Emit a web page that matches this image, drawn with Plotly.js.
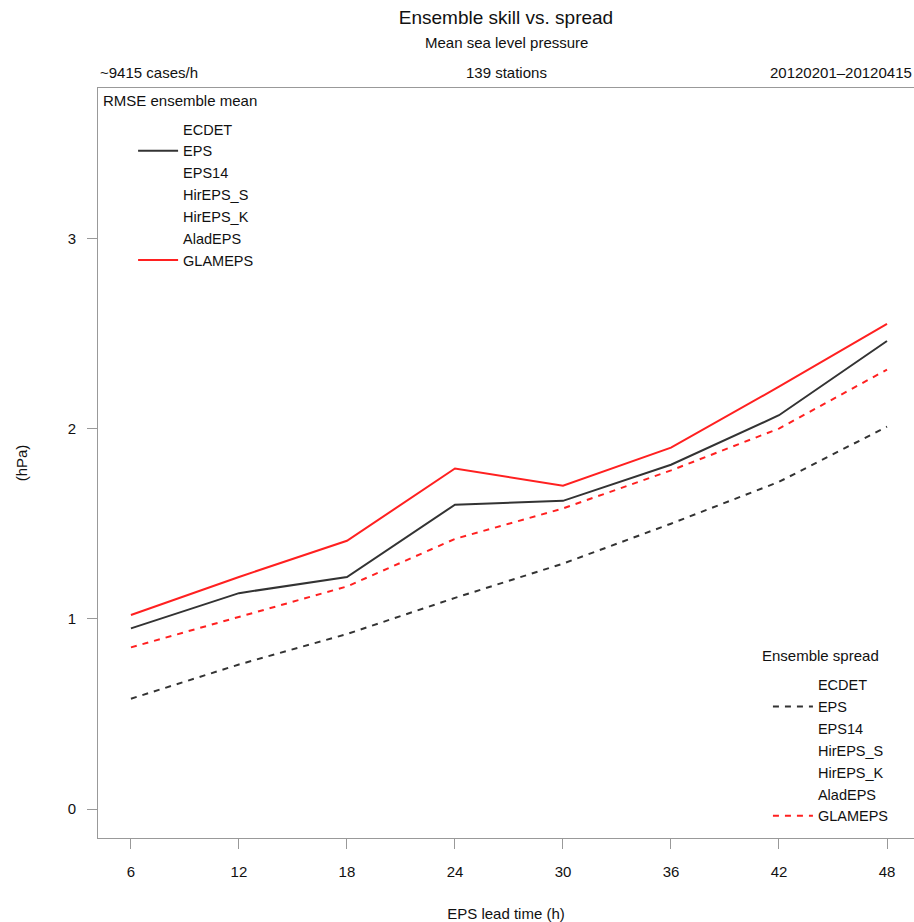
<!DOCTYPE html>
<html>
<head>
<meta charset="utf-8">
<script src="https://cdn.plot.ly/plotly-3.0.1.min.js"></script>
<style>html,body{margin:0;padding:0;background:#fff}#chart{width:914px;height:922px}</style>
</head>
<body>
<div id="chart"></div>
<script>
// Data
const leadTimes = [6, 12, 18, 24, 30, 36, 42, 48];
const models = ["ECDET", "EPS", "EPS14", "HirEPS_S", "HirEPS_K", "AladEPS", "GLAMEPS"];
const rmseEPS = [0.95, 1.135, 1.22, 1.60, 1.62, 1.81, 2.07, 2.46];
const rmseGLAMEPS = [1.02, 1.22, 1.41, 1.79, 1.70, 1.90, 2.22, 2.55];
const spreadEPS = [0.58, 0.76, 0.92, 1.11, 1.29, 1.50, 1.72, 2.01];
const spreadGLAMEPS = [0.85, 1.01, 1.17, 1.42, 1.58, 1.78, 2.00, 2.31];
const yTicks = [0, 1, 2, 3];

const rmseData = {EPS: rmseEPS, GLAMEPS: rmseGLAMEPS};
const spreadData = {EPS: spreadEPS, GLAMEPS: spreadGLAMEPS};
const colors = {EPS: "#333333", GLAMEPS: "#ff2020"};

const FONT = "Liberation Sans, Arial, sans-serif";
const traces = [];
models.forEach(m => {
  const has = rmseData[m] !== undefined;
  traces.push({
    x: has ? leadTimes : [null], y: has ? rmseData[m] : [null],
    type: "scatter", mode: "lines", name: m, legend: "legend",
    line: {color: has ? colors[m] : "rgba(0,0,0,0)", width: 2},
    hoverinfo: "skip"
  });
});
models.forEach(m => {
  const has = spreadData[m] !== undefined;
  traces.push({
    x: has ? leadTimes : [null], y: has ? spreadData[m] : [null],
    type: "scatter", mode: "lines", name: m, legend: "legend2",
    line: {color: has ? colors[m] : "rgba(0,0,0,0)", width: 2, dash: "6px,6px"},
    hoverinfo: "skip"
  });
});

const legendCommon = {
  bgcolor: "rgba(0,0,0,0)", borderwidth: 0, font: {family: FONT, size: 14.5, color: "#111"},
  xanchor: "left", yanchor: "top", itemwidth: 40, traceorder: "normal", tracegroupgap: 0
};

const layout = {
  width: 914, height: 922,
  margin: {l: 98, r: 0, t: 88, b: 84},
  paper_bgcolor: "#fff", plot_bgcolor: "#fff",
  font: {family: FONT, size: 15, color: "#111"},
  title: {
    text: "Ensemble skill vs. spread",
    font: {family: FONT, size: 19, color: "#111"},
    xref: "paper", x: 0.5, xanchor: "center",
    yref: "container", y: 0.981, yanchor: "middle"
  },
  showlegend: true,
  legend: Object.assign({}, legendCommon, {x: 0.043, y: 0.9667}),
  legend2: Object.assign({}, legendCommon, {x: 0.821, y: 0.2257}),
  xaxis: {
    range: [4.17, 49.5], tickvals: leadTimes, ticktext: leadTimes.map(String),
    showgrid: false, zeroline: false,
    showline: true, mirror: true, linecolor: "#999", linewidth: 1,
    ticks: "outside", ticklen: 10, tickcolor: "#999", tickwidth: 1,
    ticklabelstandoff: 10,
    tickfont: {family: FONT, size: 15, color: "#111"},
    title: {text: "EPS lead time (h)", font: {family: FONT, size: 15, color: "#111"}, standoff: 37}
  },
  yaxis: {
    range: [-0.152, 3.79], tickvals: yTicks, ticktext: yTicks.map(String),
    showgrid: false, zeroline: false,
    showline: true, mirror: true, linecolor: "#999", linewidth: 1,
    ticks: "outside", ticklen: 10, tickcolor: "#999", tickwidth: 1,
    ticklabelstandoff: 8,
    tickfont: {family: FONT, size: 15, color: "#111"},
    title: {text: "(hPa)", font: {family: FONT, size: 15, color: "#111"}, standoff: 36}
  },
  annotations: [
    {text: "Mean sea level pressure", xref: "paper", yref: "paper", x: 0.5, y: 1.06, xanchor: "center", yanchor: "middle", showarrow: false, font: {family: FONT, size: 15, color: "#111"}},
    {text: "~9415 cases/h", xref: "paper", yref: "paper", x: 0, y: 1.02, xanchor: "left", yanchor: "middle", showarrow: false, font: {family: FONT, size: 15, color: "#111"}},
    {text: "139 stations", xref: "paper", yref: "paper", x: 0.5, y: 1.02, xanchor: "center", yanchor: "middle", showarrow: false, font: {family: FONT, size: 15, color: "#111"}},
    {text: "20120201–20120415", xref: "paper", yref: "paper", x: 1, y: 1.02, xanchor: "right", yanchor: "middle", showarrow: false, font: {family: FONT, size: 15, color: "#111"}},
    {text: "RMSE ensemble mean", xref: "paper", yref: "paper", x: 0.004, y: 0.9827, xanchor: "left", yanchor: "middle", showarrow: false, font: {family: FONT, size: 15, color: "#111"}},
    {text: "Ensemble spread", xref: "paper", yref: "paper", x: 0.811, y: 0.2427, xanchor: "left", yanchor: "middle", showarrow: false, font: {family: FONT, size: 15, color: "#111"}}
  ]
};

Plotly.newPlot("chart", traces, layout, {staticPlot: true, displayModeBar: false});
</script>
</body>
</html>
